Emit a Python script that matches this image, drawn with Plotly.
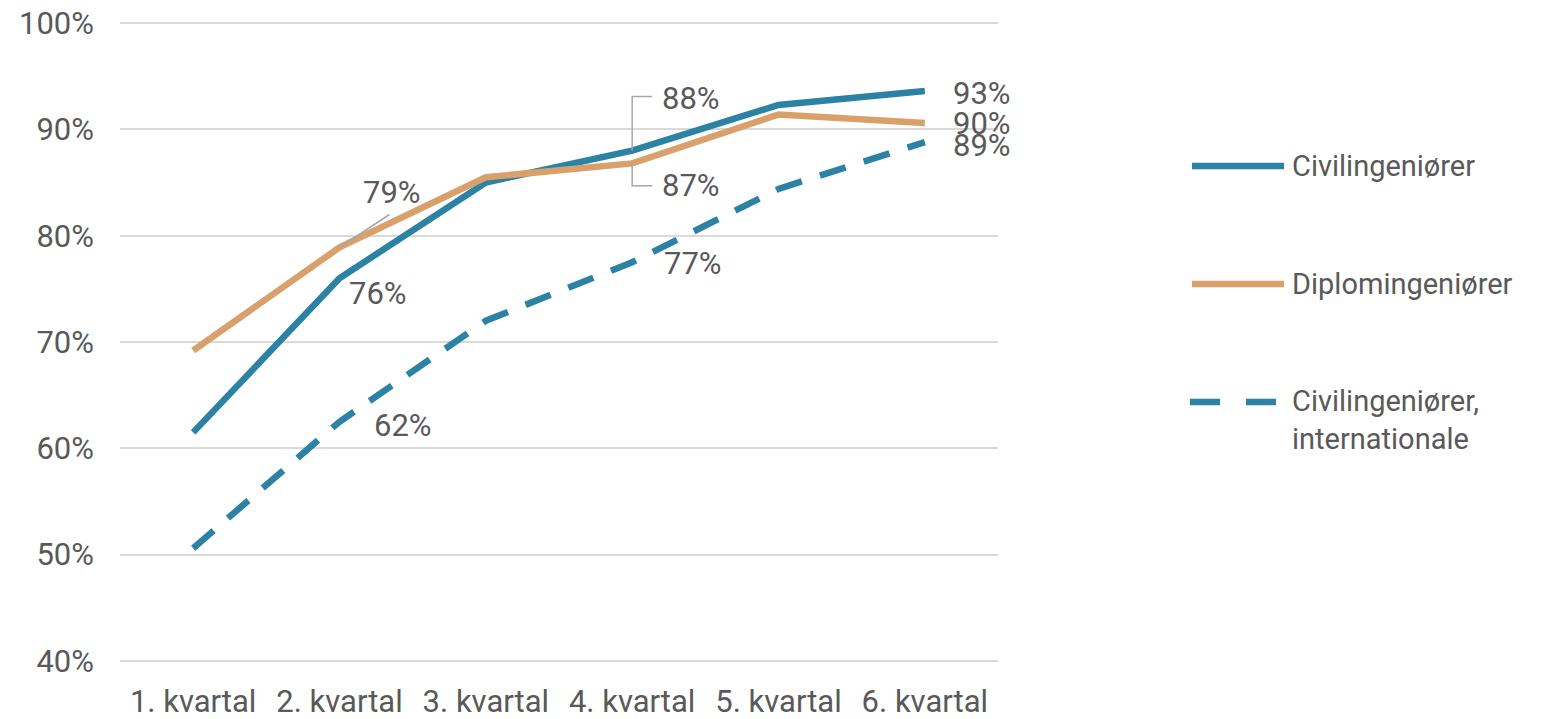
import plotly.graph_objects as go

categories = ["1. kvartal", "2. kvartal", "3. kvartal", "4. kvartal", "5. kvartal", "6. kvartal"]
civil = [61.5, 76.0, 85.0, 88.0, 92.3, 93.6]
diplom = [69.2, 78.9, 85.5, 86.8, 91.4, 90.6]
civil_intl = [50.6, 62.5, 72.0, 77.5, 84.4, 88.8]
y_ticks = [40, 50, 60, 70, 80, 90, 100]
series_names = ["Civilingeniører", "Diplomingeniører", "Civilingeniører,<br>internationale"]

BLUE = "#2b82a4"
ORANGE = "#d9a06b"
TEXT = "#595959"
GRID = "#d9d9d9"
LEADER = "#a6a6a6"
FONT = "Roboto"
FS = 31
FS_LEG = 29

fig = go.Figure()
fig.add_trace(go.Scatter(x=categories, y=civil, mode="lines", line=dict(color=BLUE, width=6.5), name=series_names[0]))
fig.add_trace(go.Scatter(x=categories, y=diplom, mode="lines", line=dict(color=ORANGE, width=6.5), name=series_names[1]))
fig.add_trace(go.Scatter(x=categories, y=civil_intl, mode="lines", line=dict(color=BLUE, width=6.5, dash="27px,19px"), name=series_names[2]))

annotations = []
shapes = []

def lab(xi, val, text, xshift=0, yshift=0, xanchor="center"):
    annotations.append(dict(x=xi, y=val, xref="x", yref="y", text=text, showarrow=False,
                            xshift=xshift, yshift=yshift, xanchor=xanchor, yanchor="middle",
                            font=dict(family=FONT, size=FS, color=TEXT)))

# data labels
lab(1, civil[1], f"{round(civil[1])}%", xshift=38, yshift=-15)
lab(1, civil_intl[1], f"{int(civil_intl[1])}%", xshift=63, yshift=-4)
lab(3, civil_intl[3], f"{int(civil_intl[3])}%", xshift=61, yshift=-1)
lab(5, civil[5], f"{int(civil[5])}%", xshift=26, yshift=-2, xanchor="left")
lab(5, diplom[5], f"{int(diplom[5])}%", xshift=26, yshift=0, xanchor="left")
lab(5, civil_intl[5], f"{round(civil_intl[5])}%", xshift=26, yshift=-3, xanchor="left")

# 79% with slanted leader line
shapes.append(dict(type="line", xref="x", yref="y", x0=1, y0=diplom[1], x1=1 + 50 / 146.4, y1=diplom[1] + 33 / 10.67,
                   line=dict(color=LEADER, width=1.5)))
lab(1, diplom[1], f"{round(diplom[1])}%", xshift=52, yshift=55)

# 88% / 87% bracket leaders
top = civil[3] + 5.1
bot = diplom[3] - 2.1
shapes.append(dict(type="path", xref="x", yref="y",
                   path=f"M 3,{civil[3]} L 3,{top} L {3 + 20 / 146.4},{top}",
                   line=dict(color=LEADER, width=1.5)))
shapes.append(dict(type="path", xref="x", yref="y",
                   path=f"M 3,{diplom[3]} L 3,{bot} L {3 + 20 / 146.4},{bot}",
                   line=dict(color=LEADER, width=1.5)))
annotations.append(dict(x=3 + 28 / 146.4, y=top, xref="x", yref="y", text=f"{round(civil[3])}%", showarrow=False,
                        xanchor="left", yanchor="middle", yshift=-2, font=dict(family=FONT, size=FS, color=TEXT)))
annotations.append(dict(x=3 + 28 / 146.4, y=bot, xref="x", yref="y", text=f"{round(diplom[3])}%", showarrow=False,
                        xanchor="left", yanchor="middle", font=dict(family=FONT, size=FS, color=TEXT)))

# custom legend (paper coords)
W, H = 878, 640
def px(xp):
    return (xp - 120) / W
def py(yp):
    return (662 - yp) / H
legend_items = [(series_names[0], BLUE, "solid", 166), (series_names[1], ORANGE, "solid", 284), (series_names[2], BLUE, "dash", 402)]
for name, col, dash, yy in legend_items:
    if dash == "solid":
        shapes.append(dict(type="line", xref="paper", yref="paper", x0=px(1192), x1=px(1284), y0=py(yy), y1=py(yy),
                           line=dict(color=col, width=6.5)))
    else:
        shapes.append(dict(type="line", xref="paper", yref="paper", x0=px(1190), x1=px(1220), y0=py(yy), y1=py(yy),
                           line=dict(color=col, width=6.5)))
        shapes.append(dict(type="line", xref="paper", yref="paper", x0=px(1246), x1=px(1276), y0=py(yy), y1=py(yy),
                           line=dict(color=col, width=6.5)))
    annotations.append(dict(x=px(1290), y=py(yy), xref="paper", yref="paper", text=name, showarrow=False,
                            xanchor="left", yanchor="top" if "<br>" in name else "middle",
                            yshift=20 if "<br>" in name else 0, align="left",
                            font=dict(family=FONT, size=FS_LEG, color=TEXT)))

fig.update_layout(
    width=1545, height=719,
    margin=dict(l=120, r=547, t=22, b=57, autoexpand=False),
    paper_bgcolor="white", plot_bgcolor="white",
    showlegend=False,
    font=dict(family=FONT, size=FS, color=TEXT),
    annotations=annotations,
    shapes=shapes,
    xaxis=dict(type="category", range=[-0.5, 5.5], showgrid=False, zeroline=False, showline=False,
               automargin=False, ticks="", ticklabelstandoff=18, tickfont=dict(family=FONT, size=FS, color=TEXT)),
    yaxis=dict(range=[39.9, 100.1], tickvals=y_ticks, ticktext=[f"{v}%" for v in y_ticks],
               showgrid=True, gridcolor=GRID, gridwidth=2, zeroline=False, showline=False,
               automargin=False, ticks="", ticklabelstandoff=25, tickfont=dict(family=FONT, size=FS, color=TEXT)),
)

fig.write_html("out.html", config={"displayModeBar": False},
               post_script="document.body.style.margin='0';document.body.style.overflow='hidden';")
